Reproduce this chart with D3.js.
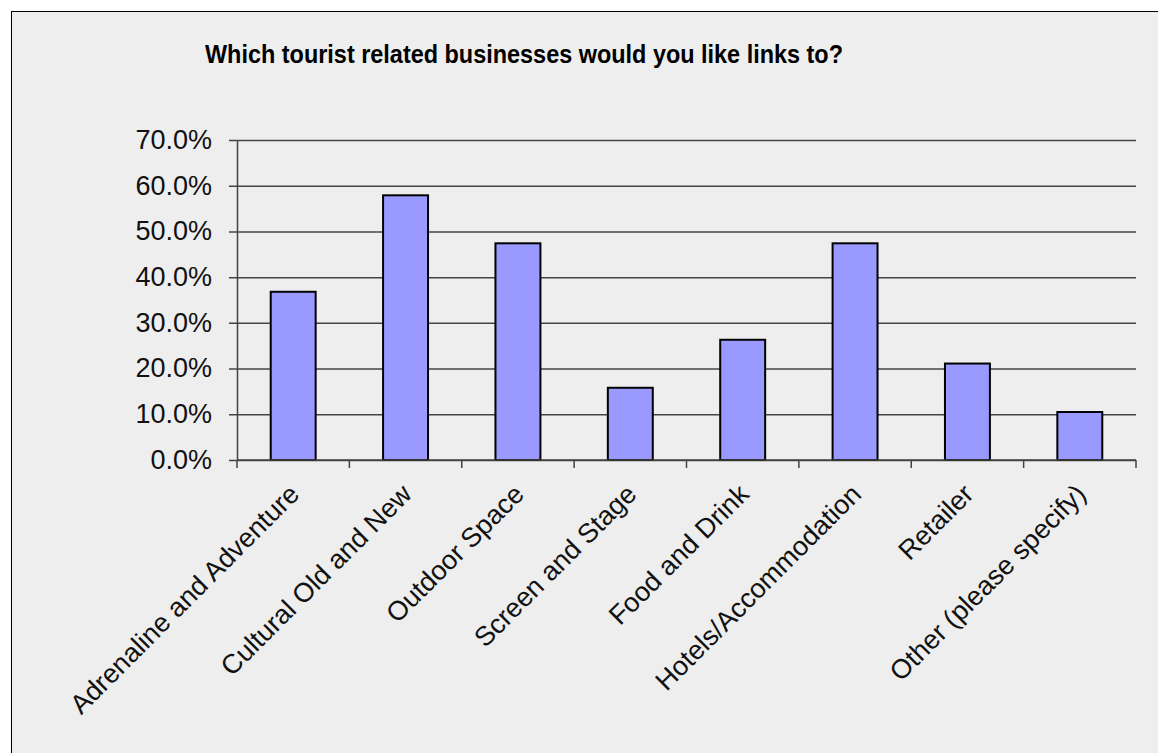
<!DOCTYPE html>
<html>
<head>
<meta charset="utf-8">
<script src="https://cdn.jsdelivr.net/npm/d3@7"></script>
<style>
  html, body { margin: 0; padding: 0; background: #ffffff; }
  svg { display: block; font-family: "Liberation Sans", Arial, sans-serif; }
</style>
</head>
<body>
<svg id="chart" width="1158" height="753"></svg>
<script>
// Survey responses: share of respondents choosing each business type
const categories = [
  "Adrenaline and Adventure",
  "Cultural Old and New",
  "Outdoor Space",
  "Screen and Stage",
  "Food and Drink",
  "Hotels/Accommodation",
  "Retailer",
  "Other (please specify)"
];
const shares = [0.368, 0.579, 0.474, 0.158, 0.263, 0.474, 0.211, 0.105];
const yTicks = [0, 0.1, 0.2, 0.3, 0.4, 0.5, 0.6, 0.7];
const titleText = "Which tourist related businesses would you like links to?";

const svg = d3.select("#chart");

// chart area frame
svg.append("rect")
  .attr("x", 11.5).attr("y", 11.5)
  .attr("width", 1158).attr("height", 760)
  .attr("fill", "#eeeeee")
  .attr("stroke", "#000").attr("stroke-width", 1);

svg.append("text")
  .attr("x", 205).attr("y", 63)
  .attr("font-size", 26).attr("font-weight", "bold")
  .attr("textLength", 638).attr("lengthAdjust", "spacingAndGlyphs")
  .attr("fill", "#000")
  .text(titleText);

const plotL = 237, plotR = 1136, plotT = 140, plotB = 460;
const labelSize = 27;

const x = d3.scaleBand().domain(categories).range([plotL, plotR]).paddingInner(0.6).paddingOuter(0.3);
const xCat = d3.scaleBand().domain(categories).range([plotL, plotR]);
const y = d3.scaleLinear().domain([0, 0.7]).range([plotB, plotT]);

// gridlines with outward ticks on the value axis
const yAxis = d3.axisLeft(y).tickValues(yTicks)
  .tickFormat(d3.format(".1%"))
  .tickSize(-(plotR - plotL)).tickSizeOuter(0).tickPadding(25);
const gy = svg.append("g").attr("transform", `translate(${plotL},0)`).call(yAxis);
gy.select(".domain").attr("stroke", "#444").attr("stroke-width", 1.5);
gy.selectAll(".tick line")
  .attr("x1", -8)
  .attr("stroke", "#444").attr("stroke-width", 1.5);
gy.selectAll(".tick text")
  .attr("font-size", labelSize).attr("fill", "#111")
  .attr("font-family", "'Liberation Sans', Arial, sans-serif")
  .attr("dy", "0.31em");

// bars
svg.append("g").selectAll("rect")
  .data(categories)
  .join("rect")
  .attr("x", d => x(d))
  .attr("y", (d, i) => y(shares[i]))
  .attr("width", x.bandwidth())
  .attr("height", (d, i) => plotB - y(shares[i]))
  .attr("fill", "#9999ff")
  .attr("stroke", "#000").attr("stroke-width", 2);

// category axis with boundary ticks
const boundaries = categories.map(c => xCat(c)).concat([plotR]);
const gx = svg.append("g");
gx.append("line")
  .attr("x1", plotL).attr("x2", plotR).attr("y1", plotB).attr("y2", plotB)
  .attr("stroke", "#444").attr("stroke-width", 1.5);
gx.selectAll("line.tk")
  .data(boundaries)
  .join("line").attr("class", "tk")
  .attr("x1", d => d).attr("x2", d => d)
  .attr("y1", plotB).attr("y2", plotB + 8)
  .attr("stroke", "#444").attr("stroke-width", 1.5);

gx.selectAll("text")
  .data(categories)
  .join("text")
  .attr("transform", d => `translate(${xCat(d) + xCat.bandwidth() / 2 - 6},${plotB + 22}) rotate(-45)`)
  .attr("text-anchor", "end")
  .attr("dy", "0.72em")
  .attr("font-size", labelSize).attr("fill", "#111")
  .text(d => d);
</script>
</body>
</html>
